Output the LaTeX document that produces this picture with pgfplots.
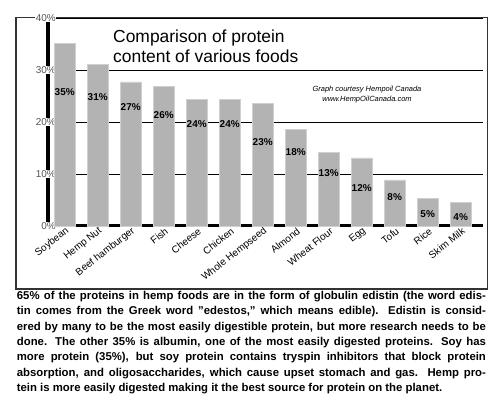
\documentclass[border=0pt]{standalone}
\usepackage{pgfplots}
\pgfplotsset{compat=1.18}
\usepackage{fontspec}
\setmainfont{Liberation Sans}
\definecolor{barg}{HTML}{B3B3B3}
\definecolor{bare}{HTML}{D0D0D0}
\definecolor{tickg}{HTML}{555555}
\begin{document}
\begin{tikzpicture}
\useasboundingbox (0,0) rectangle (504bp,399bp);
\fill[white] (0,0) rectangle (504bp,399bp);
\draw[line width=1.3bp, black!80] (16bp,110bp) rectangle (487.5bp,381.5bp);
\begin{axis}[at={(48bp,173bp)}, anchor=south west, scale only axis,
  width=435bp, height=208bp,
  xmin=-0.506, xmax=12.676, ymin=0, ymax=40,
  axis x line*=bottom, axis y line*=left,
  axis line style={-, line width=3bp, black},
  major tick length=0pt,
  ytick={0,10,20,30,40}, yticklabels={0\%,10\%,20\%,30\%,40\%},
  yticklabel style={font=\fontsize{10}{12}\selectfont, text=tickg, fill=white, inner sep=0.5pt, anchor=east, xshift=8.5bp},
  xtick={0,...,12},
  xticklabels={Soybean,Hemp Nut,Beef hamburger,Fish,Cheese,Chicken,Whole Hempseed,Almond,Wheat Flour,Egg,Tofu,Rice,Skim Milk},
  xticklabel style={rotate=38, anchor=east, font=\fontsize{10}{12}\selectfont, inner sep=0pt, yshift=-5bp},
  ymajorgrids, grid style={black, line width=0.8bp},
  clip=false]
\addplot[ybar, bar width=21bp, fill=barg, draw=bare, line width=0.6bp] coordinates {
 (0,35.1) (1,31.1) (2,27.7) (3,26.8) (4,24.4) (5,24.4) (6,23.6)
 (7,18.65) (8,14.2) (9,13.1) (10,8.85) (11,5.3) (12,4.5)};
\addplot[draw=none, mark=none, point meta=explicit symbolic,
  nodes near coords={\pgfplotspointmeta\%},
  every node near coord/.append style={anchor=center, inner sep=0pt, font=\bfseries\fontsize{10}{12}\selectfont}]
 table[meta=lab] {
x y lab
0 25.8 35
1 24.8 31
2 22.9 27
3 21.3 26
4 19.6 24
5 19.6 24
6 16.2 23
7 14.2 18
8 10.2 13
9 7.3 12
10 5.6 8
11 2.3 5
12 1.7 4
};
\end{axis}
\node[anchor=base west, font=\fontsize{17.5}{20}\selectfont, inner sep=0] at (113bp,356bp) {Comparison of protein};
\node[anchor=base west, font=\fontsize{17.5}{20}\selectfont, inner sep=0] at (113bp,336bp) {content of various foods};
\node[anchor=base, font=\itshape\fontsize{7.5}{9}\selectfont, inner sep=0] at (367bp,307bp) {Graph courtesy Hempoil Canada};
\node[anchor=base, font=\itshape\fontsize{7.5}{9}\selectfont, inner sep=0] at (367bp,297bp) {www.HempOilCanada.com};
\begin{scope}[every node/.style={anchor=base west, inner sep=0, font=\bfseries\fontsize{11.4}{13}\selectfont}]
\node at (16.7bp,99.7bp) {\makebox[469bp][s]{65\% of the proteins in hemp foods are in the form of globulin edistin (the word edis-}};
\node at (16.7bp,84.3bp) {\makebox[469bp][s]{tin comes from the Greek word "edestos," which means edible). Edistin is consid-}};
\node at (16.7bp,68.9bp) {\makebox[469bp][s]{ered by many to be the most easily digestible protein, but more research needs to be}};
\node at (16.7bp,53.5bp) {\makebox[469bp][s]{done. The other 35\% is albumin, one of the most easily digested proteins. Soy has}};
\node at (16.7bp,38.1bp) {\makebox[469bp][s]{more protein (35\%), but soy protein contains tryspin inhibitors that block protein}};
\node at (16.7bp,22.7bp) {\makebox[469bp][s]{absorption, and oligosaccharides, which cause upset stomach and gas.\ \ Hemp pro-}};
\node at (16.7bp,7.3bp) {tein is more easily digested making it the best source for protein on the planet.};
\end{scope}
\end{tikzpicture}
\end{document}
